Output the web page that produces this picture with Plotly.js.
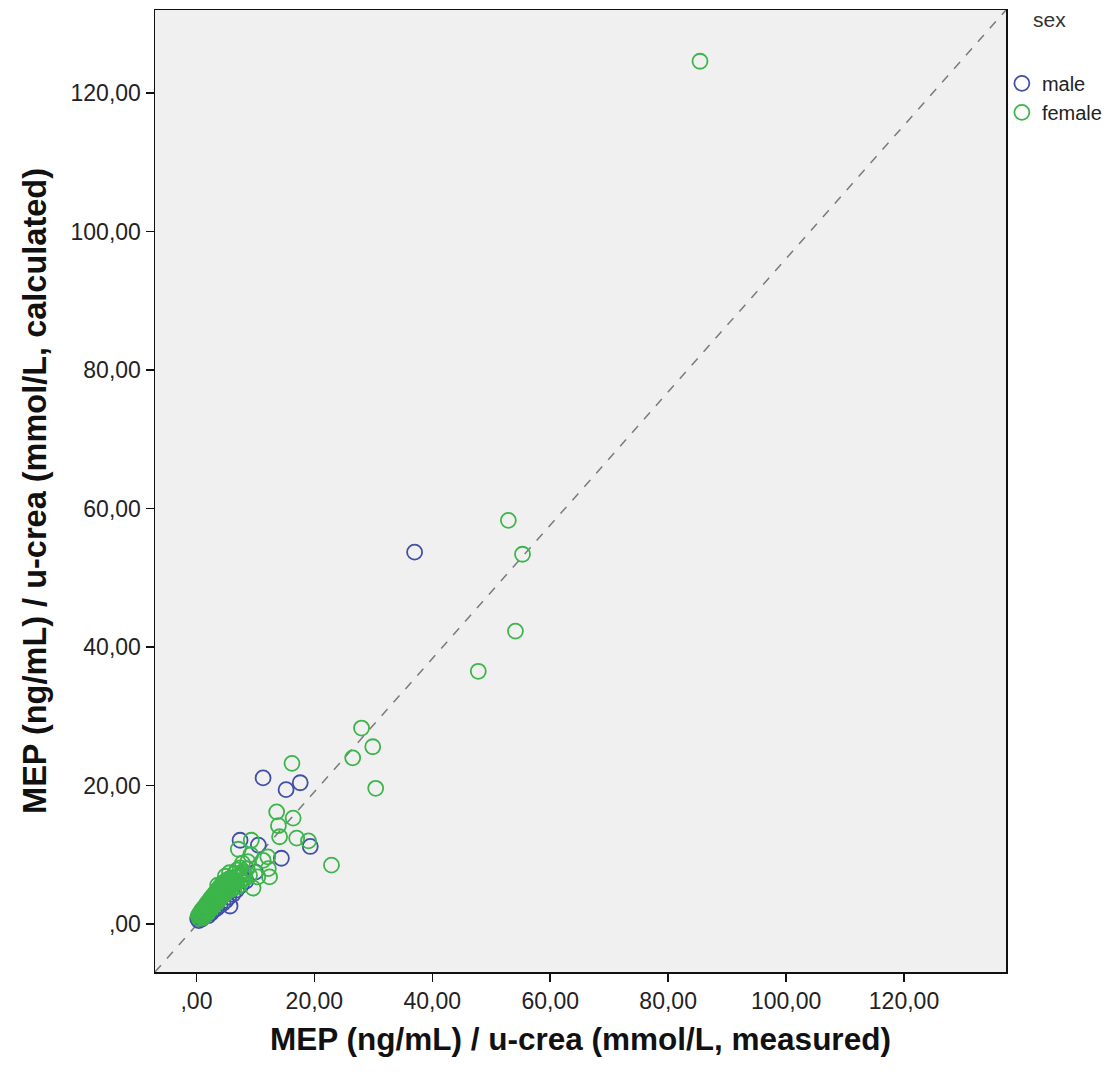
<!DOCTYPE html>
<html>
<head>
<meta charset="utf-8">
<script src="https://cdn.plot.ly/plotly-3.0.1.min.js"></script>
<style>html,body{margin:0;padding:0;background:#fff;}#chart{width:1117px;height:1075px;}</style>
</head>
<body>
<div id="chart"></div>
<script>
// ---- data ----
const maleX = [37.0, 11.3, 15.2, 17.6, 19.3, 7.4, 10.5, 14.4, 10.0, 5.7,
  0.2, 0.4, 0.6, 0.9, 1.2, 1.5, 2.0, 2.5, 3.0, 3.5, 4.0, 4.5, 5.0, 5.5, 6.2, 6.8, 3.2, 4.2, 2.2, 7.6, 8.4];
const maleY = [53.7, 21.1, 19.4, 20.4, 11.2, 12.1, 11.4, 9.5, 7.5, 2.6,
  0.8, 0.5, 1.1, 0.7, 1.0, 1.4, 1.2, 1.6, 2.0, 2.3, 2.7, 3.0, 3.4, 3.9, 4.3, 4.9, 3.6, 4.8, 2.6, 5.6, 6.2];

const femaleX = [85.4, 52.9, 55.3, 54.1, 47.8, 28.0, 29.9, 26.5, 30.4, 16.2, 22.9,
  13.6, 16.4, 13.9, 14.1, 17.0, 19.0, 7.1, 9.3, 12.1, 11.3, 10.4, 12.2, 12.4, 9.6, 8.0, 8.7, 9.2, 7.8,
  0.3, 0.5, 0.6, 0.8, 0.9, 1.0, 1.1, 1.2, 1.3, 1.4, 1.5, 1.6, 1.7, 1.8, 1.9, 2.0, 2.1, 2.2, 2.3, 2.4,
  2.5, 2.6, 2.7, 2.8, 2.9, 3.0, 3.1, 3.2, 3.3, 3.4, 3.5, 3.6, 3.7, 3.8, 3.9, 4.0, 4.1, 4.2, 4.3, 4.4,
  4.5, 4.6, 4.7, 4.8, 4.9, 5.0, 5.1, 5.2, 5.4, 5.5, 5.7, 5.9, 6.0, 6.2, 6.4, 6.6, 6.8, 7.0, 7.3, 7.6,
  7.9, 8.3, 1.0, 1.6, 2.2, 2.8, 3.4, 4.0, 4.6, 5.2, 5.8, 6.3, 2.5, 3.1, 3.7, 4.4, 5.3, 6.1, 1.3, 0.7,
  6.9, 7.4, 8.1, 8.6, 9.0, 5.6, 6.5, 7.2, 3.6, 4.9];
const femaleY = [124.6, 58.3, 53.4, 42.3, 36.5, 28.3, 25.6, 24.0, 19.6, 23.2, 8.5,
  16.2, 15.3, 14.2, 12.6, 12.4, 12.0, 10.8, 12.1, 9.7, 9.2, 6.8, 8.0, 6.8, 5.2, 7.5, 9.0, 10.0, 8.8,
  1.2, 0.8, 1.6, 1.1, 2.0, 1.4, 0.9, 2.3, 1.7, 1.2, 2.6, 2.0, 1.5, 3.0, 2.3, 1.7, 3.3, 2.6, 2.0, 3.7,
  2.9, 2.3, 4.0, 3.2, 2.6, 4.3, 3.5, 2.9, 4.6, 3.8, 3.1, 5.0, 4.1, 3.4, 5.3, 4.4, 3.7, 5.6, 4.7, 4.0,
  5.9, 5.0, 4.2, 6.1, 5.3, 4.5, 6.3, 5.5, 4.8, 6.5, 5.8, 5.0, 6.6, 5.9, 5.2, 6.8, 6.0, 5.4, 7.0, 6.3,
  7.6, 6.6, 1.9, 2.5, 3.1, 3.9, 4.5, 5.1, 5.6, 6.0, 6.3, 6.4, 3.4, 4.0, 4.6, 5.2, 5.3, 5.6, 2.1, 1.3,
  7.8, 8.1, 7.2, 8.0, 7.0, 7.4, 7.3, 6.7, 5.6, 6.9];

// reference line runs from the lower-left to the upper-right corner of the frame
const refLineX = [-7.03, 137.3];
const refLineY = [-6.93, 132.0];
const tickVals = [0, 20, 40, 60, 80, 100, 120];
const tickText = [",00", "20,00", "40,00", "60,00", "80,00", "100,00", "120,00"];
const seriesNames = ["male", "female"];
const legendTitle = "sex";
const xTitle = "MEP (ng/mL) / u-crea (mmol/L, measured)";
const yTitle = "MEP (ng/mL) / u-crea (mmol/L, calculated)";

// ---- styling ----
const FONT = "Liberation Sans, Arial, sans-serif";
const maleColor = "#4150a6";
const femaleColor = "#3cb54a";

const markerStyle = (c) => ({symbol: "circle-open", size: 15, color: c, line: {color: c, width: 1.8}});

const traces = [
  {x: refLineX, y: refLineY, mode: "lines", line: {color: "#7a7a7a", width: 1.5, dash: "dash"},
   showlegend: false, hoverinfo: "skip"},
  {x: maleX, y: maleY, mode: "markers", type: "scatter", name: seriesNames[0], marker: markerStyle(maleColor)},
  {x: femaleX, y: femaleY, mode: "markers", type: "scatter", name: seriesNames[1], marker: markerStyle(femaleColor)}
];

const axisCommon = {
  tickvals: tickVals, ticktext: tickText, ticks: "outside", ticklen: 8, tickwidth: 1.5, tickcolor: "#111",
  showline: true, linecolor: "#111", linewidth: 1.5, mirror: true, showgrid: false, zeroline: false,
  tickfont: {family: FONT, size: 23, color: "#222"}
};

const layout = {
  width: 1117, height: 1075,
  margin: {l: 155, r: 110, t: 10, b: 103},
  paper_bgcolor: "#ffffff", plot_bgcolor: "#f0f0f0",
  xaxis: Object.assign({}, axisCommon, {range: [-7.03, 137.3],
    title: {text: xTitle, font: {family: FONT, size: 31.5, color: "#111", weight: "bold"}, standoff: 15}}),
  yaxis: Object.assign({}, axisCommon, {range: [-6.93, 132.0],
    title: {text: yTitle, font: {family: FONT, size: 32.5, color: "#111", weight: "bold"}, standoff: 14}}),
  showlegend: true,
  legend: {x: 0.994, xanchor: "left", y: 0.944, yanchor: "top", bgcolor: "rgba(0,0,0,0)",
    font: {family: FONT, size: 20, color: "#222"}, itemwidth: 30, tracegroupgap: 0},
  annotations: [{text: legendTitle, xref: "paper", yref: "paper", x: 1.051, y: 0.99, xanchor: "center", yanchor: "middle",
    showarrow: false, font: {family: FONT, size: 21, color: "#333"}}]
};

Plotly.newPlot("chart", traces, layout, {displayModeBar: false, staticPlot: true});
</script>
</body>
</html>
